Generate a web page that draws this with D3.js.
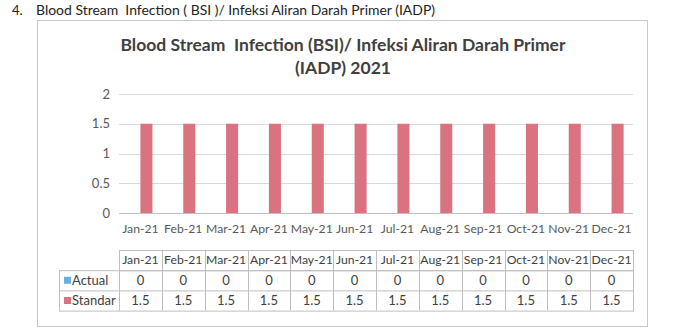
<!DOCTYPE html>
<html><head><meta charset="utf-8">
<script src="https://cdn.jsdelivr.net/npm/d3@7"></script>
<style>html,body{margin:0;padding:0;background:#fff;}svg{display:block;}</style>
</head><body>
<script>
const categories = ["Jan-21","Feb-21","Mar-21","Apr-21","May-21","Jun-21","Jul-21","Aug-21","Sep-21","Oct-21","Nov-21","Dec-21"];
const actual = [0,0,0,0,0,0,0,0,0,0,0,0];
const standar = [1.5,1.5,1.5,1.5,1.5,1.5,1.5,1.5,1.5,1.5,1.5,1.5];
const seriesNames = ["Actual","Standar"];
const yTicks = [0,0.5,1,1.5,2];
const colors = {Actual:"#6aaee0", Standar:"#d8737f"};
const series = [{name:"Actual", values:actual},{name:"Standar", values:standar}];

const W=682,H=336;
const svg=d3.select("body").append("svg").attr("width",W).attr("height",H);
const font="Lato, 'Open Sans', sans-serif";
const fs=12.2;

// page heading
svg.append("text").attr("x",12).attr("y",15).attr("font-family",font).attr("font-size",13).attr("fill","#222").text("4.");
svg.append("text").attr("x",36).attr("y",15).attr("font-family",font).attr("font-size",13).attr("fill","#222")
  .attr("textLength",399).attr("lengthAdjust","spacingAndGlyphs")
  .style("white-space","pre")
  .text("Blood Stream  Infection ( BSI )/ Infeksi Aliran Darah Primer (IADP)");

// chart box
svg.append("rect").attr("x",37.5).attr("y",20.5).attr("width",610).attr("height",306).attr("fill","#fff").attr("stroke","#c8c8c8");

// title
const t=svg.append("text").attr("font-family",font).attr("font-weight","bold").attr("font-size",17.5).attr("fill","#404040").attr("text-anchor","middle");
t.append("tspan").attr("x",343).attr("y",51).style("white-space","pre").text("Blood Stream  Infection (BSI)/ Infeksi Aliran Darah Primer");
t.append("tspan").attr("x",343).attr("y",74).text("(IADP) 2021");

const pLeft=119,pRight=633,pTop=94,pBottom=213;
const x=d3.scaleBand().domain(categories).range([pLeft,pRight]).paddingInner(0).paddingOuter(0);
const y=d3.scaleLinear().domain([0,2]).range([pBottom,pTop]);
const xs=d3.scaleBand().domain(seriesNames).range([0,x.bandwidth()]).paddingInner(0).paddingOuter(0.78);

// gridlines
svg.append("g").selectAll("line").data(yTicks).join("line")
  .attr("x1",pLeft).attr("x2",pRight).attr("y1",d=>Math.round(y(d))+0.5).attr("y2",d=>Math.round(y(d))+0.5)
  .attr("stroke",d=>d===0?"#bfbfbf":"#d9d9d9").attr("stroke-width",1);

// y axis labels
const ya=svg.append("g").attr("transform",`translate(${pLeft-9},0)`)
  .call(d3.axisLeft(y).tickValues(yTicks).tickSize(0).tickPadding(0).tickFormat(d3.format("~g")));
ya.select(".domain").remove();
ya.selectAll("text").attr("font-family",font).attr("font-size",13).attr("fill","#595959");

// bars
const groups=svg.append("g").selectAll("g").data(series).join("g").attr("fill",d=>colors[d.name]);
groups.selectAll("rect").data(d=>d.values.map((v,i)=>({name:d.name,v,c:categories[i]}))).join("rect")
  .attr("x",d=>x(d.c)+xs(d.name)).attr("width",xs.bandwidth())
  .attr("y",d=>y(d.v)).attr("height",d=>pBottom-y(d.v));

// x axis labels
const xa=svg.append("g").attr("transform",`translate(0,${pBottom+11})`)
  .call(d3.axisBottom(x).tickSize(0).tickPadding(0));
xa.select(".domain").remove();
xa.selectAll("text").attr("font-family",font).attr("font-size",fs).attr("fill","#595959").attr("dy","0.71em");

// data table
const rowTop=250,rowH=20.2,legLeft=59;
const tbl=svg.append("g").attr("stroke","#bfbfbf").attr("fill","none");
tbl.append("rect").attr("x",pLeft+0.5).attr("y",rowTop+0.5).attr("width",pRight-pLeft).attr("height",rowH);
tbl.append("rect").attr("x",legLeft+0.5).attr("y",rowTop+rowH+0.5).attr("width",pRight-legLeft).attr("height",rowH*2);
tbl.append("line").attr("x1",legLeft).attr("x2",pRight).attr("y1",rowTop+2*rowH+0.5).attr("y2",rowTop+2*rowH+0.5);
tbl.selectAll(".v").data(categories).join("line")
  .attr("x1",d=>Math.round(x(d))+0.5).attr("x2",d=>Math.round(x(d))+0.5).attr("y1",rowTop).attr("y2",rowTop+3*rowH);
tbl.append("line").attr("x1",pRight+0.5).attr("x2",pRight+0.5).attr("y1",rowTop).attr("y2",rowTop+3*rowH);

const tx=svg.append("g").attr("font-family",font).attr("font-size",fs).attr("fill","#404040");
tx.selectAll(".h").data(categories).join("text").attr("x",d=>x(d)+x.bandwidth()/2).attr("y",rowTop+rowH/2).attr("dy","0.35em").attr("text-anchor","middle").text(d=>d);
series.forEach((s,r)=>{
  const cy=rowTop+rowH*(r+1)+rowH/2;
  svg.append("rect").attr("x",64).attr("y",cy-3.5).attr("width",7).attr("height",7).attr("fill",colors[s.name]);
  tx.append("text").attr("x",72).attr("y",cy).attr("dy","0.35em").attr("font-size",13).text(s.name);
  tx.selectAll(null).data(s.values).join("text").attr("x",(d,i)=>x(categories[i])+x.bandwidth()/2).attr("y",cy).attr("dy","0.35em").attr("font-size",13).attr("text-anchor","middle").text(d=>d3.format("~g")(d));
});
</script>
</body></html>
